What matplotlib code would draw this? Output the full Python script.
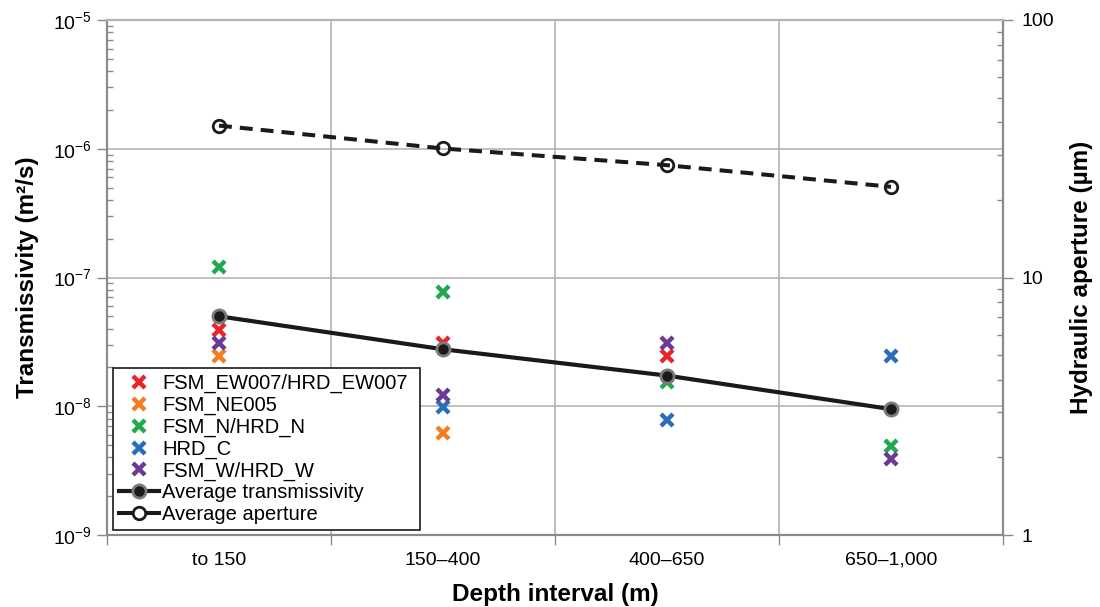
import numpy as np
import matplotlib
matplotlib.use("Agg")
import matplotlib.pyplot as plt
from matplotlib.lines import Line2D
from matplotlib.ticker import LogLocator, FixedLocator, NullFormatter, FixedFormatter

plt.rcParams['font.family'] = ['Liberation Sans', 'DejaVu Sans']
plt.rcParams['mathtext.fontset'] = 'custom'
plt.rcParams['mathtext.rm'] = 'Liberation Sans'
plt.rcParams['mathtext.it'] = 'Liberation Sans:italic'
plt.rcParams['mathtext.bf'] = 'Liberation Sans:bold'
plt.rcParams['axes.unicode_minus'] = False

categories = ["to 150", "150\u2013400", "400\u2013650", "650\u20131,000"]
nan = np.nan
fsm_ew007 = [3.9e-8, 3.1e-8, 2.45e-8, nan]
fsm_ne005 = [2.45e-8, 6.2e-9, nan, nan]
fsm_n = [1.21e-7, 7.7e-8, 1.55e-8, 4.95e-9]
hrd_c = [nan, 9.8e-9, 7.8e-9, 2.46e-8]
fsm_w = [3.1e-8, 1.22e-8, 3.09e-8, 3.9e-9]
avg_trans = [5.0e-8, 2.77e-8, 1.73e-8, 9.5e-9]
avg_aperture = [38.9, 31.7, 27.3, 22.5]

series = [
    ("FSM_EW007/HRD_EW007", fsm_ew007, "#e8262a"),
    ("FSM_NE005", fsm_ne005, "#f47d20"),
    ("FSM_N/HRD_N", fsm_n, "#22a94f"),
    ("HRD_C", hrd_c, "#2a6ebb"),
    ("FSM_W/HRD_W", fsm_w, "#6b3a96"),
]

fig = plt.figure(figsize=(11, 6.07), dpi=100)
ax = fig.add_axes([107/1100, 72/607, 896/1100, 515/607])
ax2 = ax.twinx()

x = np.arange(len(categories)) + 0.5
grid_c = "#b4b4b4"
spine_c = "#8a8a8a"

handles = []
for name, vals, col in series:
    h, = ax.plot(x, vals, linestyle='none', marker='x', ms=9, mew=3.2,
                 color=col, label=name, zorder=3)
    handles.append(h)

h_avg, = ax.plot(x, avg_trans, color='#1a1a1a', lw=3.0, marker='o', ms=9.5,
                 mfc='#1a1a1a', mec='#7a7a7a', mew=2, label='Average transmissivity', zorder=4)
handles.append(h_avg)

ax2.plot(x, avg_aperture, color='#1a1a1a', lw=2.9, ls=(0, (3.2, 2.0)), marker='o', ms=9,
         mfc='none', mec='#1a1a1a', mew=2, zorder=4)
h_ap = Line2D([], [], color='#1a1a1a', lw=2.9, marker='o', ms=9, mfc='white',
              mec='#1a1a1a', mew=2, label='Average aperture')
handles.append(h_ap)

ax.set_yscale('log')
ax.set_ylim(1e-9, 1e-5)
ax.set_xlim(0, 4)
ax2.set_yscale('log')
ax2.set_ylim(1, 100)

# left axis ticks
ax.yaxis.set_major_locator(FixedLocator([1e-9, 1e-8, 1e-7, 1e-6, 1e-5]))
ax.yaxis.set_major_formatter(FixedFormatter([r'$10^{-9}$', r'$10^{-8}$', r'$10^{-7}$', r'$10^{-6}$', r'$10^{-5}$']))
ax.yaxis.set_minor_locator(LogLocator(base=10, subs=np.arange(2, 10)))
ax.yaxis.set_minor_formatter(NullFormatter())
ax.tick_params(axis='y', which='major', direction='out', length=7, width=1, color=spine_c,
               labelsize=14, pad=4)
ax.tick_params(axis='y', which='minor', direction='in', length=4, width=1, color=spine_c)

# right axis ticks
ax2.yaxis.set_major_locator(FixedLocator([1, 10, 100]))
ax2.yaxis.set_major_formatter(FixedFormatter(['1', '10', '100']))
ax2.yaxis.set_minor_locator(LogLocator(base=10, subs=np.arange(2, 10)))
ax2.yaxis.set_minor_formatter(NullFormatter())
ax2.tick_params(axis='y', which='major', direction='out', length=7, width=1, color=spine_c,
                labelsize=14, pad=6)
ax2.tick_params(axis='y', which='minor', direction='in', length=4, width=1, color=spine_c)

# x axis ticks: gridlines at integers, labels at centers
ax.xaxis.set_major_locator(FixedLocator([0, 1, 2, 3, 4]))
ax.xaxis.set_major_formatter(NullFormatter())
ax.xaxis.set_minor_locator(FixedLocator(x))
ax.xaxis.set_minor_formatter(FixedFormatter(categories))
ax.tick_params(axis='x', which='major', direction='out', length=7, width=1, color=spine_c)
ax.tick_params(axis='x', which='minor', length=0, labelsize=14, pad=12)

ax.grid(True, which='major', axis='both', color=grid_c, lw=1.2, zorder=0)
ax.set_axisbelow(True)

for a in (ax, ax2):
    for s in a.spines.values():
        s.set_color(spine_c)
        s.set_linewidth(1.5)
ax.spines['top'].set_color(grid_c)
ax2.spines['top'].set_color(grid_c)

ax.set_ylabel('Transmissivity (m\u00b2/s)', fontsize=17.5, fontweight='bold', labelpad=10)
ax2.set_ylabel('Hydraulic aperture (\u00b5m)', fontsize=17.5, fontweight='bold', labelpad=12)
ax.set_xlabel('Depth interval (m)', fontsize=17.5, fontweight='bold', labelpad=10)

leg = ax2.legend(handles=handles, loc='lower left', mode='expand',
                 bbox_to_anchor=(6/896, 5/515, 307/896, 0.3),
                 fontsize=14.5, frameon=True, fancybox=False, framealpha=1,
                 edgecolor='#1a1a1a', handlelength=2.0, handletextpad=0.15,
                 borderpad=0.3, labelspacing=0.13, borderaxespad=0)
leg.get_frame().set_linewidth(1.2)

fig.savefig('out.png', dpi=100)
